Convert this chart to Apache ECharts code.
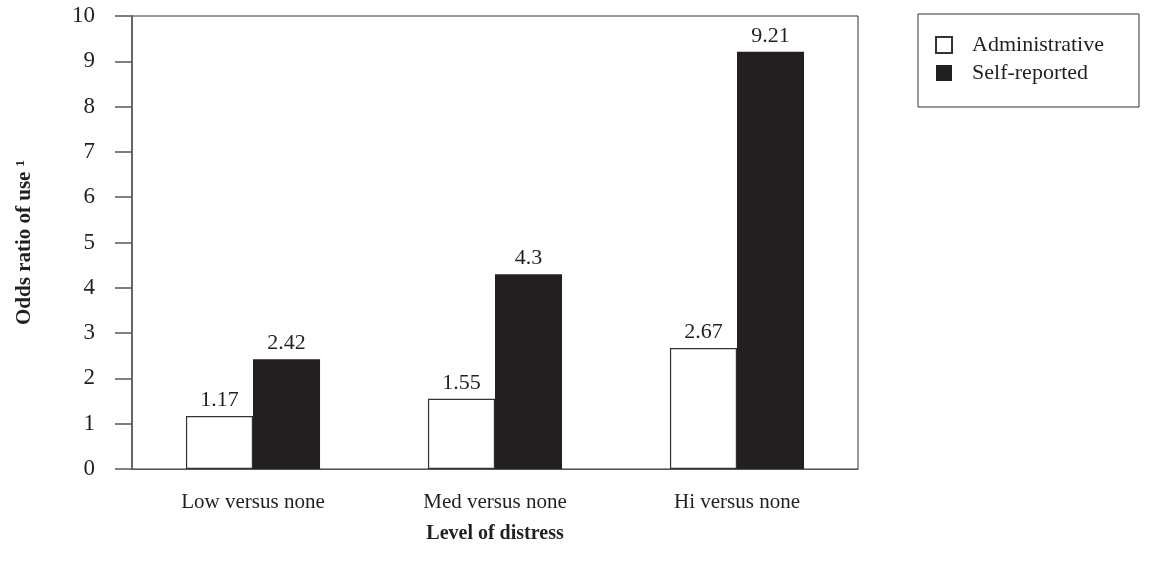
<!DOCTYPE html>
<html>
<head>
<meta charset="utf-8">
<script src="https://cdn.jsdelivr.net/npm/echarts@6/dist/echarts.min.js"></script>
<style>html,body{margin:0;padding:0;background:#fff;}#c{width:1149px;height:564px;}</style>
</head>
<body>
<div id="c"></div>
<script>
const categories = ['Low versus none', 'Med versus none', 'Hi versus none'];
const administrative = [1.17, 1.55, 2.67];
const selfReported = [2.42, 4.3, 9.21];
const yTicks = [0, 1, 2, 3, 4, 5, 6, 7, 8, 9, 10];

const FONT = '"Liberation Serif", "DejaVu Serif", serif';
const INK = '#231f20';
const chart = echarts.init(document.getElementById('c'));
chart.setOption({
  animation: false,
  textStyle: { fontFamily: FONT, color: INK },
  grid: { left: 132, right: 291, top: 16, bottom: 95, show: true, borderColor: '#333', borderWidth: 1, backgroundColor: 'transparent' },
  legend: {
    orient: 'vertical', right: 10, top: 14,
    padding: [20, 35, 23, 17], itemGap: 6,
    borderColor: '#333', borderWidth: 1,
    itemWidth: 16, itemHeight: 16, icon: 'rect',
    data: ['Administrative', 'Self-reported'],
    textStyle: { fontFamily: FONT, fontSize: 22, color: INK, padding: [0, 0, 0, 15] }
  },
  xAxis: {
    type: 'category', data: categories,
    axisLine: { show: true, lineStyle: { color: '#555', width: 1 } },
    axisTick: { show: false },
    axisLabel: { fontFamily: FONT, fontSize: 21, color: INK, margin: 23 },
    name: 'Level of distress', nameLocation: 'middle', nameGap: 55,
    nameTextStyle: { fontFamily: FONT, fontSize: 20, fontWeight: 'bold', color: INK }
  },
  yAxis: {
    type: 'value', min: yTicks[0], max: yTicks[yTicks.length - 1], interval: 1,
    splitLine: { show: false },
    axisLine: { show: true, lineStyle: { color: '#666', width: 2 } },
    axisTick: { show: true, inside: false, length: 17, lineStyle: { color: '#555', width: 1.5 } },
    axisLabel: { fontFamily: FONT, fontSize: 23, color: INK, margin: 37 },
    name: 'Odds ratio of use ¹', nameLocation: 'middle', nameGap: 97,
    nameTextStyle: { fontFamily: FONT, fontSize: 21, fontWeight: 'bold', color: INK }
  },
  series: [
    {
      name: 'Administrative', type: 'bar', data: administrative,
      barGap: '0%', barCategoryGap: '44.6%',
      itemStyle: { color: '#fff', borderColor: '#333', borderWidth: 1.2 },
      label: { show: true, position: 'top', distance: 5, fontFamily: FONT, fontSize: 22, color: INK }
    },
    {
      name: 'Self-reported', type: 'bar', data: selfReported,
      itemStyle: { color: INK },
      label: { show: true, position: 'top', distance: 5, fontFamily: FONT, fontSize: 22, color: INK }
    }
  ]
});
</script>
</body>
</html>
